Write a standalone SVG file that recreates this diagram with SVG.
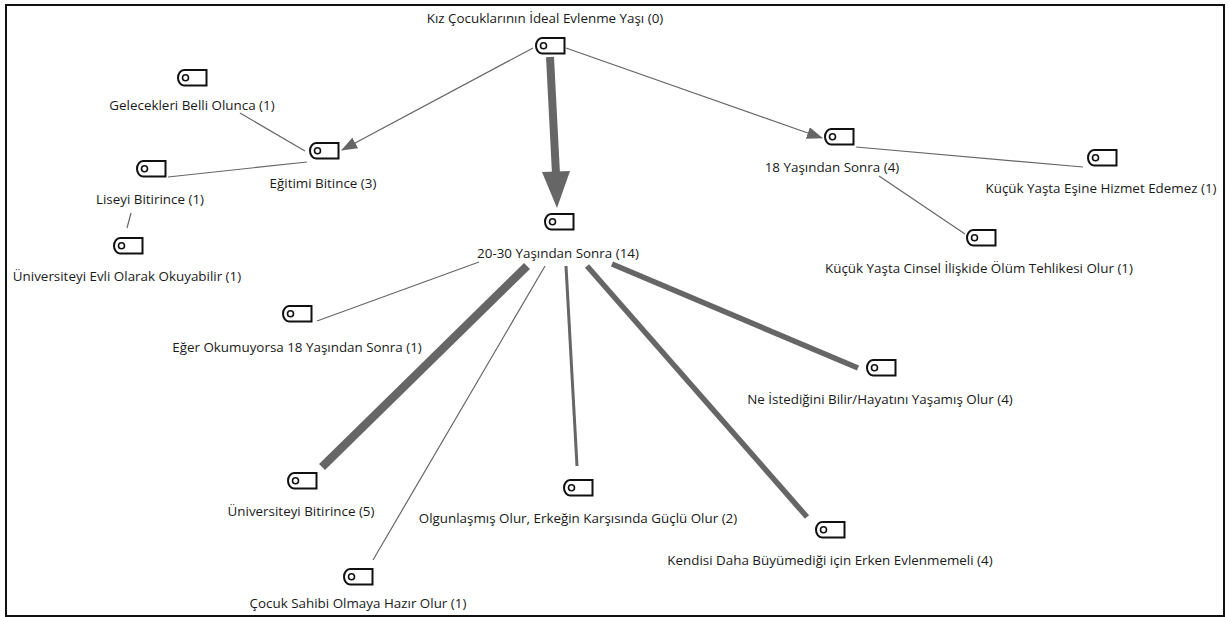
<svg xmlns="http://www.w3.org/2000/svg" width="1229" height="617" viewBox="0 0 1229 617">
<style>
text{font-family:"Open Sans","Noto Sans","Liberation Sans",sans-serif;font-size:13.4px;fill:#1a1a1a;text-anchor:middle}
.c{stroke:#666;fill:none;stroke-linecap:butt}
.t1{stroke-width:1.2}
.ic{fill:#fff;stroke:#111;stroke-width:2}
.dot{fill:#fff;stroke:#111;stroke-width:1.6}
</style>
<defs>
<symbol id="tag" overflow="visible">
<path class="ic" d="M7,1 H29.5 V16.5 H7 A6,7.75 0 0 1 7,1 Z"/>
<circle class="dot" cx="8.5" cy="8.7" r="3"/>
</symbol>
<marker id="ah" markerUnits="userSpaceOnUse" markerWidth="16" markerHeight="12" refX="15" refY="6" orient="auto">
<path d="M0,0 L16,6 L0,12 Z" fill="#666"/>
</marker>
</defs>
<rect x="6" y="5" width="1218" height="611" fill="#fff" stroke="#111" stroke-width="2"/>
<g id="connectors">
<line class="c t1" x1="533" y1="48" x2="342" y2="150" marker-end="url(#ah)"/>
<line class="c t1" x1="566" y1="48" x2="822" y2="138" marker-end="url(#ah)"/>
<line class="c" stroke-width="8" x1="550" y1="57" x2="556" y2="174"/>
<polygon points="557,208 542,172 570,171" fill="#666"/>
<line class="c t1" x1="240" y1="113" x2="305" y2="151"/>
<line class="c t1" x1="168" y1="177" x2="307" y2="162"/>
<line class="c t1" x1="131" y1="213" x2="127" y2="228"/>
<line class="c t1" x1="856" y1="147" x2="1083" y2="167"/>
<line class="c t1" x1="879" y1="176" x2="965" y2="234"/>
<line class="c t1" x1="479" y1="262" x2="317" y2="321"/>
<line class="c t1" x1="545" y1="266" x2="373" y2="560"/>
<line class="c" stroke-width="8.5" x1="527" y1="266" x2="322" y2="467"/>
<line class="c" stroke-width="3" x1="566" y1="266" x2="577" y2="466"/>
<line class="c" stroke-width="5.5" x1="587" y1="266" x2="807" y2="517"/>
<line class="c" stroke-width="5.5" x1="612" y1="264" x2="858" y2="368"/>
</g>
<g id="n0"><use href="#tag" x="535" y="37"/><text x="545" y="23">Kız Çocuklarının İdeal Evlenme Yaşı (0)</text></g>
<g id="n1"><use href="#tag" x="177" y="69"/><text x="192" y="110">Gelecekleri Belli Olunca (1)</text></g>
<g id="n2"><use href="#tag" x="309" y="142"/><text x="323" y="188">Eğitimi Bitince (3)</text></g>
<g id="n3"><use href="#tag" x="136" y="160"/><text x="150" y="204">Liseyi Bitirince (1)</text></g>
<g id="n4"><use href="#tag" x="113" y="237"/><text x="127" y="281">Üniversiteyi Evli Olarak Okuyabilir (1)</text></g>
<g id="n5"><use href="#tag" x="824" y="128"/><text x="832" y="172">18 Yaşından Sonra (4)</text></g>
<g id="n6"><use href="#tag" x="1087" y="149"/><text x="1101" y="193">Küçük Yaşta Eşine Hizmet Edemez (1)</text></g>
<g id="n7"><use href="#tag" x="966" y="229"/><text x="979" y="273">Küçük Yaşta Cinsel İlişkide Ölüm Tehlikesi Olur (1)</text></g>
<g id="n8"><use href="#tag" x="544" y="213"/><text x="558" y="258">20-30 Yaşından Sonra (14)</text></g>
<g id="n9"><use href="#tag" x="282" y="305"/><text x="297" y="352">Eğer Okumuyorsa 18 Yaşından Sonra (1)</text></g>
<g id="n10"><use href="#tag" x="866" y="359"/><text x="880" y="404">Ne İstediğini Bilir/Hayatını Yaşamış Olur (4)</text></g>
<g id="n11"><use href="#tag" x="287" y="472"/><text x="301" y="516">Üniversiteyi Bitirince (5)</text></g>
<g id="n12"><use href="#tag" x="563" y="479"/><text x="578" y="523">Olgunlaşmış Olur, Erkeğin Karşısında Güçlü Olur (2)</text></g>
<g id="n13"><use href="#tag" x="815" y="521"/><text x="830" y="565">Kendisi Daha Büyümediği için Erken Evlenmemeli (4)</text></g>
<g id="n14"><use href="#tag" x="343" y="568"/><text x="358" y="608">Çocuk Sahibi Olmaya Hazır Olur (1)</text></g>
</svg>
